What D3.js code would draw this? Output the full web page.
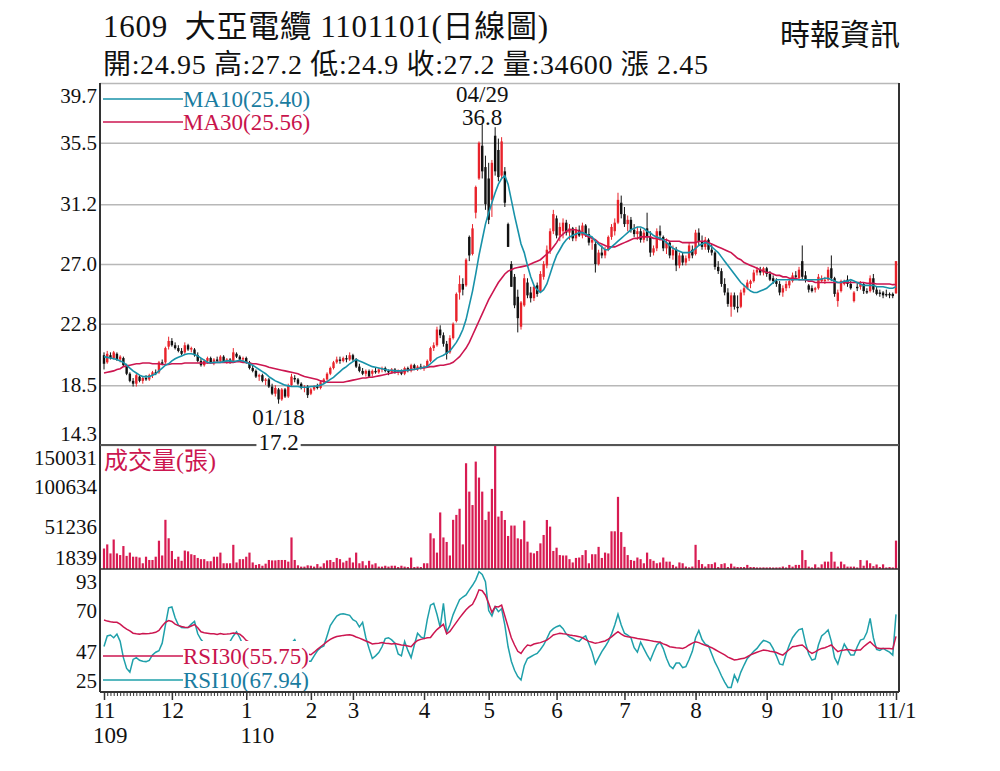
<!DOCTYPE html>
<html lang="zh-Hant">
<head>
  <meta charset="UTF-8">
  <title>1609 大亞電纜 日線圖</title>
  <script src="https://d3js.org/d3.v7.min.js"></script>
  <style>
    body { margin: 0; background: #fff; }
    svg { display: block; }
    text { font-family: "Liberation Serif", "Noto Sans CJK TC", serif; }
  </style>
</head>
<body>
  <svg width="1000" height="771"></svg>
  <script>
    // Daily bars 109/11/02 .. 110/11/01
    const open = [
      20.6,20.1,20.6,20.4,20.7,20.3,20.4,19.9,19.3,18.8,18.6,19.1,18.8,19.0,18.9,19.2,19.4,19.4,20.1,20.1,21.2,
      21.6,21.3,21.1,20.9,20.8,21.3,21.0,21.0,20.6,20.2,19.9,20.2,20.4,20.1,20.3,20.2,20.5,20.2,20.3,20.2,20.7,20.5,20.3,
      20.4,20.1,19.7,19.5,19.1,19.2,18.8,18.9,18.4,17.9,18.2,17.5,18.2,17.7,18.5,19.0,18.9,18.6,18.3,18.4,
      17.9,18.2,18.4,18.3,18.7,18.9,19.3,19.7,20.1,20.3,20.2,20.4,20.3,
      20.6,20.3,19.8,19.5,19.3,19.5,19.3,19.5,19.4,19.6,19.7,19.5,19.4,19.6,19.4,19.5,19.3,19.7,19.5,19.9,19.7,19.8,
      19.7,19.8,20.2,21.1,21.3,22.4,22.0,21.4,20.8,21.8,23.0,25.0,25.6,25.5,28.9,27.7,30.6,33.0,35.3,33.8,
      33.0,31.5,36.0,35.0,33.2,33.5,29.8,27.0,26.1,24.7,22.6,24.1,25.7,25.0,24.6,25.5,25.1,26.1,26.9,28.0,29.3,
      30.2,29.0,29.3,29.9,29.2,29.5,28.8,29.4,29.0,29.7,29.1,28.5,28.4,27.0,27.8,27.6,28.0,28.9,29.3,29.9,31.3,
      30.5,29.8,30.1,29.4,29.1,29.3,28.7,29.5,28.9,27.8,28.1,29.3,28.9,28.1,28.5,27.6,28.0,26.9,27.6,27.1,27.4,28.0,
      27.7,29.2,28.6,28.2,28.7,28.0,27.8,26.8,26.5,25.6,25.0,24.0,24.8,24.0,24.0,25.0,25.3,25.6,25.8,26.4,26.6,26.4,
      26.7,26.3,26.0,25.8,25.6,25.0,25.3,25.5,25.8,26.2,26.0,27.2,26.2,25.5,25.3,25.2,25.3,25.8,25.8,25.9,
      26.7,26.0,24.4,25.1,25.6,25.9,25.6,24.4,25.4,25.4,25.6,25.1,25.1,26.0,25.2,25.0,25.0,24.9,24.9,24.9,24.95
    ];
    const high = [
      20.8,20.9,20.8,20.9,20.8,20.6,20.5,20.0,19.4,19.0,19.3,19.2,19.1,19.2,19.3,19.5,19.6,20.2,20.3,21.2,21.9,
      21.8,21.5,21.3,21.1,21.5,21.4,21.2,21.1,20.8,20.4,20.3,20.5,20.5,20.4,20.5,20.6,20.6,20.4,20.4,21.1,20.8,20.6,20.5,
      20.5,20.2,19.9,19.6,19.3,19.3,19.0,19.0,18.6,18.5,18.3,18.3,18.3,18.6,19.3,19.2,19.0,18.7,18.5,18.5,
      18.3,18.5,18.6,18.8,19.0,19.4,19.8,20.2,20.5,20.5,20.5,20.6,20.8,
      20.7,20.4,20.0,19.7,19.6,19.6,19.6,19.7,19.7,19.8,19.8,19.6,19.7,19.7,19.6,19.6,19.8,19.8,20.0,20.0,19.9,20.0,
      19.9,20.3,21.2,21.5,22.6,22.7,22.2,21.6,22.0,22.9,25.0,26.2,26.0,27.4,29.0,29.8,32.5,35.6,36.8,34.6,
      34.1,34.3,36.6,35.8,35.9,33.8,29.9,27.2,26.3,25.2,24.4,26.3,26.0,25.4,25.5,25.7,26.5,27.2,28.3,29.5,30.8,
      30.4,29.9,30.2,30.1,29.8,29.6,29.6,29.7,29.9,29.8,29.5,28.9,28.6,28.0,28.3,28.2,29.0,29.8,30.2,32.0,31.8,
      31.0,30.4,30.3,29.8,29.6,29.5,29.4,30.6,29.3,28.3,29.5,29.7,29.0,28.8,28.6,28.3,28.2,27.8,27.8,27.6,28.5,28.3,
      29.4,29.5,29.0,28.9,28.8,28.4,27.9,27.2,26.7,26.0,25.3,25.0,25.0,24.8,25.2,25.5,25.9,25.9,26.6,26.8,26.8,26.8,
      26.8,26.5,26.2,26.0,25.8,25.5,25.8,25.9,26.4,26.5,26.8,28.3,26.5,25.6,25.5,25.4,26.3,26.2,26.1,26.8,
      27.6,26.1,25.2,25.9,25.9,26.2,25.8,25.1,25.7,25.8,25.7,25.3,26.2,26.3,25.4,25.2,25.1,25.2,25.0,25.0,27.2
    ];
    const low = [
      19.6,20.0,20.3,20.3,20.2,20.1,19.8,19.2,18.7,18.4,18.4,18.7,18.6,18.8,18.8,19.0,19.2,19.3,19.9,20.0,21.0,
      21.2,21.0,20.8,20.6,20.7,20.9,20.8,20.5,20.1,19.8,19.8,20.0,20.0,19.9,20.1,20.1,20.1,20.0,20.0,20.1,20.4,20.2,20.1,
      20.0,19.6,19.4,19.0,18.8,18.7,18.5,18.3,17.8,17.7,17.2,17.4,17.6,17.6,18.4,18.7,18.5,18.2,18.0,17.6,
      17.8,18.1,18.2,18.2,18.6,18.8,19.2,19.6,20.0,20.0,20.1,20.1,20.2,
      20.2,19.7,19.4,19.2,19.1,19.0,19.1,19.3,19.3,19.4,19.4,19.2,19.3,19.3,19.2,19.2,19.2,19.4,19.4,19.6,19.5,19.6,
      19.5,19.7,20.1,20.9,21.2,21.8,21.2,20.3,20.7,21.7,22.9,24.5,24.8,25.4,27.2,27.6,30.2,32.9,33.0,30.8,
      29.8,30.3,33.2,32.8,33.0,31.0,28.2,25.4,23.9,22.2,22.4,24.0,24.6,24.3,24.4,24.7,25.0,25.9,26.7,27.7,29.1,
      28.8,28.6,28.8,29.0,28.7,28.6,28.6,28.9,28.8,28.9,28.3,28.0,26.4,26.9,27.4,27.4,27.9,28.7,29.0,29.8,30.2,
      29.6,29.3,29.2,28.9,28.7,28.5,28.5,28.6,27.5,27.6,27.9,28.8,27.9,27.7,27.4,27.3,26.5,26.7,26.9,26.9,27.2,27.4,
      27.6,28.3,28.0,28.0,27.8,27.6,26.6,26.3,25.4,24.8,24.0,23.3,23.8,23.6,23.9,24.8,25.2,25.3,25.7,26.2,26.2,26.2,
      26.1,25.8,25.6,25.4,24.8,24.7,25.1,25.3,25.7,25.9,25.9,25.9,25.7,25.0,25.0,25.0,25.2,25.7,25.6,25.8,
      25.8,24.7,24.0,25.0,25.5,25.4,25.2,24.3,25.1,25.2,24.9,24.9,25.0,25.0,24.8,24.7,24.6,24.7,24.6,24.6,24.9
    ];
    const close = [
      20.0,20.7,20.4,20.8,20.3,20.5,19.9,19.3,18.8,18.6,19.2,18.8,19.0,18.9,19.2,19.4,19.3,20.1,20.0,21.1,21.6,
      21.3,21.1,20.9,20.7,21.3,21.0,21.1,20.6,20.2,19.9,20.2,20.4,20.1,20.3,20.2,20.5,20.2,20.3,20.1,20.8,20.5,20.3,20.4,
      20.1,19.7,19.5,19.1,19.2,18.8,18.9,18.4,17.9,18.3,17.5,18.2,17.7,18.5,19.1,18.9,18.6,18.3,18.4,17.8,
      18.2,18.4,18.3,18.7,18.9,19.3,19.7,20.1,20.3,20.2,20.4,20.3,20.6,
      20.3,19.8,19.5,19.3,19.5,19.1,19.5,19.4,19.6,19.7,19.5,19.4,19.6,19.4,19.5,19.3,19.7,19.5,19.9,19.7,19.8,19.7,
      19.8,20.2,21.1,21.3,22.4,22.0,21.4,20.7,21.8,22.8,24.9,25.6,25.2,27.3,27.6,29.5,32.4,35.5,33.5,31.2,
      30.1,34.1,33.5,33.1,35.6,31.3,28.2,25.4,24.1,23.2,24.3,26.0,24.8,24.6,25.4,24.9,26.3,27.0,28.0,29.3,30.5,
      29.0,29.6,29.9,29.2,29.5,28.8,29.4,29.0,29.7,29.1,28.5,28.7,27.0,27.8,27.6,28.0,28.9,29.6,29.9,31.5,30.5,
      29.8,30.1,29.4,29.1,29.3,28.7,29.2,28.9,27.8,28.1,29.3,29.0,28.1,28.5,27.6,28.0,26.9,27.6,27.1,27.4,28.3,27.6,
      29.2,28.6,28.2,28.7,28.0,27.8,26.8,26.5,25.6,25.0,24.2,24.8,24.0,23.9,25.0,25.3,25.7,25.8,26.4,26.6,26.4,26.7,
      26.3,25.9,25.8,25.6,25.0,25.3,25.6,25.8,26.2,26.1,26.6,26.1,25.9,25.2,25.1,25.3,26.1,26.0,25.9,26.6,
      26.0,24.9,25.0,25.8,25.8,25.6,25.3,25.0,25.3,25.6,25.1,25.0,26.0,25.2,24.9,24.9,24.8,24.8,24.8,24.75,27.2
    ];
    const volume = [
      25000,30000,19000,36000,19000,17000,28000,16000,20000,15000,15000,14000,7000,15000,11000,11000,15000,34500,16500,60000,37500,
      22000,12000,15000,10000,22500,21500,18000,17000,13500,12000,12000,9500,9500,15000,15000,20000,7000,7000,7000,29500,8000,12000,12000,
      15000,20000,8000,5000,6000,4000,6500,11000,10500,10500,11000,11000,11000,9000,38500,11000,4500,2900,2900,4500,
      4000,2900,6000,2900,7000,10500,11000,8500,13500,12000,8000,10000,13800,
      8000,20000,7000,9500,4500,10000,5500,7000,2900,2900,4000,2900,4000,4000,2400,4000,2900,2400,14000,2400,2900,2400,
      7000,7000,43600,37400,20000,69000,38500,33000,16500,60000,66000,73500,30000,129000,94400,78000,131000,111500,94400,59800,
      70000,97700,150031,63900,70800,59800,40300,53000,53000,37400,36300,59000,33400,20000,19100,21900,31300,41500,59800,51700,22000,
      26000,17000,16500,16500,12000,8000,13500,14000,17000,23000,7000,18000,18000,27000,13500,20000,19000,46000,46000,88000,45000,
      27000,17000,11000,10000,14000,12000,7000,20000,12000,10000,7000,8000,14000,9000,9000,5000,3000,8000,7000,3000,2000,3000,
      29500,11000,6000,3000,6000,6000,8000,2400,6000,7000,2400,6500,3000,2400,2400,2400,5000,2400,2400,1900,1900,2000,
      1900,2000,1839,1900,2000,3000,1900,5000,2900,5000,5000,23000,11000,2900,1900,5700,2000,5700,9000,9000,
      21000,9000,2900,9000,5700,2900,2900,2900,1900,11000,4000,10500,7000,3500,5500,2400,5700,1900,2400,1900,34600
    ];
    const ma10 = [
      20.5,20.45,20.4,20.35,20.3,20.2,20.1,19.9,19.7,19.5,19.35,19.2,19.1,19.1,19.1,19.2,19.3,19.5,19.7,
      19.9,20.0,20.2,20.35,20.45,20.55,20.65,20.7,20.7,20.65,20.55,20.4,20.25,20.1,
      20.05,20.1,20.1,20.1,20.15,20.2,20.2,20.15,20.2,20.25,20.2,
      20.1,20.0,19.9,19.75,19.6,19.45,19.3,19.1,18.95,18.8,18.7,18.6,18.5,18.45,18.4,18.4,
      18.4,18.35,18.35,18.35,18.4,18.4,18.45,18.5,18.6,18.75,18.9,19.05,19.25,19.45,19.65,19.8,20.0,20.15,20.3,
      20.2,20.1,20.0,19.9,19.8,19.75,19.7,19.65,19.6,19.55,19.55,
      19.5,19.5,19.5,19.55,19.55,19.6,19.6,19.65,19.7,19.75,19.8,
      20.0,20.2,20.4,20.5,20.6,20.75,20.9,21.2,21.5,21.9,22.4,23.1,24.1,25.1,26.3,27.6,28.7,29.8,
      30.6,31.3,32.0,32.6,33.0,33.2,32.6,31.5,30.4,29.4,28.4,27.8,26.9,26.1,25.5,25.2,25.0,
      25.2,25.6,26.3,27.0,27.6,28.0,28.4,28.7,28.9,29.0,29.1,29.2,29.2,29.1,29.0,28.9,28.6,28.4,28.2,28.0,
      28.0,28.2,28.4,28.6,28.8,29.0,29.2,29.4,29.5,29.6,29.6,29.5,29.3,29.2,29.0,28.9,28.8,28.7,28.5,28.3,
      28.1,28.0,27.9,27.8,27.8,27.8,27.9,28.1,28.3,28.4,28.5,28.4,28.2,28.0,27.8,27.5,27.2,26.9,26.6,26.3,
      26.0,25.7,25.5,25.3,25.1,25.0,25.0,25.1,25.2,25.3,25.5,25.7,25.9,25.9,25.9,25.9,25.9,25.9,25.9,25.9,
      25.9,25.9,25.9,25.9,25.9,25.9,25.95,26.0,26.0,25.9,25.8,25.7,25.7,25.8,25.8,25.9,25.8,25.7,25.6,25.5,
      25.5,25.5,25.5,25.4,25.4,25.4,25.35,25.3,25.3,25.40
    ];
    const ma30 = [
      19.35,19.4,19.45,19.5,19.6,19.65,19.8,19.85,19.9,19.95,20.0,20.0,20.05,
      20.05,20.05,20.0,20.0,20.0,19.95,19.95,19.95,
      20.0,20.0,20.0,20.0,20.05,20.05,20.05,20.05,20.05,20.05,20.05,20.05,20.05,20.05,20.1,20.1,20.1,20.1,20.1,20.1,
      20.15,20.15,20.1,20.1,20.05,20.0,20.0,19.95,19.9,19.85,
      19.75,19.7,19.65,19.6,19.55,19.5,19.45,19.4,19.35,19.3,
      19.2,19.1,19.05,19.0,18.95,18.9,18.8,18.75,18.7,18.7,
      18.7,18.7,18.7,18.7,18.75,18.8,18.85,18.9,18.95,19.0,
      19.0,19.05,19.05,19.1,19.15,19.2,19.25,19.3,19.35,19.4,
      19.4,19.45,19.5,19.55,19.6,19.6,19.65,19.7,19.7,19.75,
      19.8,19.8,19.85,19.9,19.9,19.95,20.0,20.1,20.3,20.5,
      20.8,21.1,21.5,22.0,22.5,23.0,23.5,24.0,24.5,24.9,
      25.3,25.7,26.0,26.3,26.5,26.6,26.7,26.75,26.8,26.85,
      26.9,27.0,27.1,27.2,27.3,27.5,27.7,27.9,28.2,28.5,
      28.9,29.1,29.3,29.4,29.4,29.4,29.3,29.2,29.0,28.9,
      28.8,28.7,28.5,28.4,28.3,28.2,28.2,28.2,28.3,28.4,
      28.5,28.6,28.7,28.8,28.8,28.9,28.9,28.9,28.9,28.8,
      28.8,28.7,28.7,28.7,28.6,28.6,28.6,28.6,28.5,28.5,
      28.5,28.5,28.5,28.6,28.6,28.6,28.5,28.4,28.3,28.2,
      28.1,28.0,27.9,27.8,27.6,27.4,27.3,27.1,27.0,26.9,
      26.8,26.7,26.6,26.5,26.4,26.4,26.3,26.2,26.2,26.1,
      26.1,26.0,26.0,26.0,25.9,25.9,25.9,25.8,25.8,25.7,
      25.7,25.7,25.7,25.7,25.7,25.7,25.7,25.7,25.7,25.7,
      25.7,25.7,25.7,25.7,25.7,25.65,25.65,25.65,25.6,25.6,
      25.6,25.6,25.6,25.55,25.56
    ];
    const rsi30 = [
      64.8,64.2,63.8,63.6,63.5,62.5,61.0,59.8,58.8,57.5,57.2,57.0,57.3,57.2,57.3,57.6,58.0,59.0,61.5,63.5,
      64.5,64.0,62.5,61.7,61.2,60.8,60.7,61.5,62.3,60.5,58.3,57.8,57.5,57.2,57.2,56.8,57.3,56.9,57.0,57.2,
      57.6,57.3,57.0,55.5,53.5,52.5,52.0,51.5,51.5,51.0,50.5,50.0,49.0,48.5,47.5,48.0,47.5,48.0,49.5,49.0,
      48.5,47.5,47.0,46.0,45.6,47.0,48.6,50.0,51.4,52.8,54.1,55.0,55.7,56.0,56.3,56.5,56.6,56.2,55.4,54.8,
      54.0,53.2,52.5,51.6,51.8,52.0,52.3,52.0,51.8,51.6,51.8,51.4,51.0,50.8,50.4,50.0,52.0,53.5,54.1,54.5,
      55.0,55.1,57.5,59.5,61.0,62.4,57.2,58.5,61.0,63.5,66.0,68.3,70.5,72.2,73.5,77.0,81.5,81.0,78.5,74.0,
      69.0,72.2,72.0,73.0,67.0,61.0,55.0,51.0,47.5,46.3,49.0,51.0,50.6,51.5,51.9,52.3,53.0,53.7,55.0,56.5,
      57.0,57.5,57.2,57.0,56.5,56.2,56.0,55.6,55.0,54.0,53.0,52.5,51.9,52.3,52.8,53.2,54.2,55.5,57.0,58.3,
      57.0,56.0,55.6,55.3,55.0,54.6,54.3,54.0,53.7,53.4,53.0,52.8,52.5,51.6,51.0,50.0,49.8,49.5,49.3,49.1,
      49.8,51.0,52.0,52.8,52.3,51.5,50.8,50.2,49.5,48.5,47.5,46.5,45.5,44.3,43.5,42.7,43.0,43.4,43.6,44.5,
      45.5,46.3,47.0,47.6,48.2,48.0,47.5,47.3,46.8,46.0,45.4,47.0,48.5,50.0,50.3,50.7,51.0,49.5,47.5,46.3,
      47.2,48.3,49.1,49.5,50.2,51.0,49.0,47.3,48.0,48.2,48.5,48.2,47.8,48.2,48.2,50.0,51.5,52.8,51.0,49.5,
      49.1,49.0,49.1,49.1,48.8,55.75
    ];
    const rsi10 = [
      50.2,56,56.5,55,57,53,44,38,36,43,44,42.5,42,41.8,42.5,45.5,47,47.8,52,62,
      71.5,72,66,62,60.7,60.5,60.7,62.5,64,57.2,54,52,50,48,49,51,50,48,50,53,
      56,58.3,55,51,47,45,42,40,42,38,40,36,33,38,32,40,37,45,52,54,
      50,46,47,42,42,45,47.8,49.5,50.5,56,61.7,64.5,67,68,68.3,67.8,67.4,65,64,61,
      63.5,55,49,43.5,45,46.8,50,54.5,55,53.8,52,46,45,53,48,44,51,57.5,55.5,54.6,
      65,73,74,68,60.7,74,58,62,67.8,72,76,77.5,78.7,81.5,84,87,91.5,90,86,70,
      67,72.2,69.4,71,62,50,42,37,33.5,31.6,39.5,43.5,44.5,45.5,46.3,48.5,51,54.5,58.3,60,
      61.1,61.8,60,57,55.5,54.6,53.5,53,55,56,51.5,47,40.5,44,47.3,50,53,57,62,68,
      62,57.5,56.5,55,49.5,47,52.5,49,45.5,42.5,47,51,52.5,49,43.6,39.5,38,41,41,38.5,
      39,43,47.5,55,59,54,51.5,50.5,46,41.5,38,34,30.5,27.5,27.5,34.4,30.7,36,39.9,43.5,
      45.5,47.5,49.1,51.5,53.5,53,52,49,45,40.5,40,46,51,55,57.5,59.5,60,52,46,42.7,
      43.3,51,56,57.5,59.3,53,44,40.5,46.5,51.5,48.5,45.4,45.4,50,53.7,54.3,58,65.7,55,48.5,
      48,49.1,48,47,45.4,67.94
    ];

    const priceTicks = [39.7, 35.5, 31.2, 27.0, 22.8, 18.5, 14.3];
    const rsiTicks = [93, 70, 47, 25];
    const monthLabels = ["11", "12", "1", "2", "3", "4", "5", "6", "7", "8", "9", "10", "11/1"];
    const monthStarts = [0, 21, 44, 64, 77, 99, 119, 140, 161, 183, 205, 225, 245];
    const yearLabels = ["109", "110"];
    const yearMonth = [0, 2];
    const peakDate = "04/29", lowDate = "01/18";
    const stockCode = "1609", stockName = "大亞電纜", chartDate = "1101101";

    const n = close.length;
    const L = 100, R = 899;
    const PT = 83, PB = 445, VB = 569, RB = 692;
    const RED = "#e8232b", BLACK = "#111", TEAL = "#1892a9", CRIMSON = "#cc1650";

    const svg = d3.select("svg");

    const x = d3.scaleLinear().domain([0, n - 1]).range([104, 896]);
    const yP = d3.scaleLinear().domain([14.3, 39.7]).range([PB, PT]);
    const vMax = d3.max(volume), vMin = d3.min(volume);
    const yV = d3.scaleLinear().domain([0, vMax]).range([VB, PB + 1]);
    const yR = d3.scaleLinear().domain([25, 93]).range([RB, VB]);
    const volTicks = [vMax, vMin + (vMax - vMin) * 2 / 3, vMin + (vMax - vMin) / 3, vMin].map(Math.round);

    // price grid
    svg.append("g")
      .attr("transform", `translate(${L},0)`)
      .call(d3.axisRight(yP).tickValues(priceTicks).tickSize(R - L).tickFormat(""))
      .call(g => g.select(".domain").remove())
      .call(g => g.selectAll("line").attr("stroke", "#b8b8b8").attr("stroke-width", 1.5));

    // left labels, edge labels pulled inside their panel
    function labelAxis(scale, ticks, fmt, top, bottom) {
      const g = svg.append("g")
        .attr("transform", `translate(${L},0)`)
        .call(d3.axisLeft(scale).tickValues(ticks).tickSize(0).tickPadding(3).tickFormat(fmt));
      g.select(".domain").remove();
      g.attr("font-size", 21).attr("font-family", null);
      g.selectAll("text")
        .attr("fill", "#111")
        .attr("y", d => {
          const p = scale(d);
          return Math.max(top + 13, Math.min(bottom - 11, p)) - p;
        });
    }
    labelAxis(yP, priceTicks, d => d.toFixed(1), PT, PB);
    labelAxis(yV, volTicks, d => d, PB, VB);
    labelAxis(yR, rsiTicks, d => d, VB, RB);

    // candles
    const days = d3.range(n);
    const color = i => close[i] >= open[i] ? RED : BLACK;
    const cg = svg.append("g");
    cg.selectAll("line").data(days).join("line")
      .attr("x1", i => x(i)).attr("x2", i => x(i))
      .attr("y1", i => yP(high[i])).attr("y2", i => yP(low[i]))
      .attr("stroke", color).attr("stroke-width", 1);
    cg.selectAll("rect").data(days).join("rect")
      .attr("x", i => x(i) - 1.2).attr("width", 2.4)
      .attr("y", i => yP(Math.max(open[i], close[i])))
      .attr("height", i => Math.max(1, Math.abs(yP(open[i]) - yP(close[i]))))
      .attr("fill", color);

    const priceLine = d3.line().x((d, i) => x(i)).y(d => yP(d));
    svg.append("path").datum(ma30).attr("d", priceLine)
      .attr("fill", "none").attr("stroke", CRIMSON).attr("stroke-width", 1.6);
    svg.append("path").datum(ma10).attr("d", priceLine)
      .attr("fill", "none").attr("stroke", TEAL).attr("stroke-width", 1.6);

    // MA legend
    const maLegend = [
      { name: "MA10", v: ma10[n - 1], line: TEAL, text: "#1a7ca0", y: 99 },
      { name: "MA30", v: ma30[n - 1], line: CRIMSON, text: "#c8144c", y: 122 }
    ];
    maLegend.forEach(d => {
      svg.append("line").attr("x1", 103).attr("x2", 183).attr("y1", d.y).attr("y2", d.y)
        .attr("stroke", d.line).attr("stroke-width", 1.3);
      svg.append("text").attr("x", 183).attr("y", d.y + 8).attr("font-size", 23).attr("fill", d.text)
        .text(`${d.name}(${d.v.toFixed(2)})`);
    });

    // high / low notes
    function note(cx, lines, bg) {
      lines.forEach(([t, yy]) => {
        const g = svg.append("g");
        const txt = g.append("text").attr("x", cx).attr("y", yy).attr("text-anchor", "middle")
          .attr("font-size", 23).attr("fill", "#111").text(t);
        if (bg) {
          const b = txt.node().getBBox();
          g.insert("rect", "text").attr("x", b.x - 2).attr("y", b.y + 3).attr("width", b.width + 4)
            .attr("height", b.height - 3).attr("fill", "#fff");
        }
      });
    }

    // volume
    svg.append("g").selectAll("rect").data(days).join("rect")
      .attr("x", i => x(i) - 1.1).attr("width", 2.2)
      .attr("y", i => yV(volume[i])).attr("height", i => VB - yV(volume[i]))
      .attr("fill", "#d81b52");
    svg.append("text").attr("x", 104).attr("y", 469).attr("font-size", 24).attr("fill", CRIMSON)
      .text("成交量(張)");

    // RSI
    const rsiLine = d3.line().x((d, i) => x(i)).y(d => yR(d));
    svg.append("path").datum(rsi10).attr("d", rsiLine)
      .attr("fill", "none").attr("stroke", "#1fa0aa").attr("stroke-width", 1.5);
    svg.append("path").datum(rsi30).attr("d", rsiLine)
      .attr("fill", "none").attr("stroke", CRIMSON).attr("stroke-width", 1.5);
    svg.append("rect").attr("x", 183).attr("y", 641).attr("width", 126).attr("height", 50).attr("fill", "#fff");
    const rsiLegend = [
      { name: "RSI30", v: rsi30[n - 1], line: CRIMSON, text: "#c8144c", y: 656 },
      { name: "RSI10", v: rsi10[n - 1], line: "#1fa0aa", text: "#1a7ca0", y: 680 }
    ];
    rsiLegend.forEach(d => {
      svg.append("line").attr("x1", 103).attr("x2", 183).attr("y1", d.y).attr("y2", d.y)
        .attr("stroke", d.line).attr("stroke-width", 1.3);
      svg.append("text").attr("x", 183).attr("y", d.y + 8).attr("font-size", 23).attr("fill", d.text)
        .text(`${d.name}(${d.v.toFixed(2)})`);
    });

    // frame
    const frame = svg.append("g").attr("stroke", "#333");
    frame.append("line").attr("x1", L).attr("x2", L).attr("y1", PT).attr("y2", RB).attr("stroke-width", 2);
    frame.append("line").attr("x1", R).attr("x2", R).attr("y1", PT).attr("y2", RB).attr("stroke-width", 2);
    frame.append("line").attr("x1", L).attr("x2", R).attr("y1", PB).attr("y2", PB).attr("stroke-width", 2).attr("stroke", "#555");
    frame.append("line").attr("x1", L).attr("x2", R).attr("y1", VB).attr("y2", VB).attr("stroke-width", 1.5);

    const hi = d3.maxIndex(high), lo = d3.minIndex(low);
    note(x(hi), [[peakDate, yP(high[hi]) - 22], [String(high[hi]), yP(high[hi]) + 0.5]], false);
    note(x(lo), [[lowDate, yP(low[lo]) + 21], [String(low[lo]), yP(low[lo]) + 46]], true);

    // x axis: a tick per day, longer ticks at months
    svg.append("g")
      .attr("transform", `translate(0,${RB})`)
      .call(d3.axisBottom(x).tickValues(days).tickSize(4).tickFormat(""))
      .call(g => g.selectAll("line").attr("stroke", "#333"))
      .call(g => g.select(".domain").attr("stroke", "#333").attr("stroke-width", 2).attr("d", `M${L},0H${R}`));
    const mAxis = svg.append("g")
      .attr("transform", `translate(0,${RB})`)
      .call(d3.axisBottom(x).tickValues(monthStarts).tickSize(8).tickFormat((d, i) => monthLabels[i]));
    mAxis.select(".domain").remove();
    mAxis.attr("font-size", 23).attr("font-family", null);
    mAxis.selectAll("line").attr("stroke", "#333").attr("stroke-width", 1.5);
    mAxis.selectAll("text").attr("fill", "#111").attr("dy", null).attr("y", 26);
    const mTexts = mAxis.selectAll("text").nodes();
    yearLabels.forEach((t, k) => {
      const m = yearMonth[k];
      const w = mTexts[m].getComputedTextLength();
      svg.append("text").attr("x", x(monthStarts[m]) - w / 2).attr("y", 743)
        .attr("font-size", 23).attr("fill", "#111").text(t);
    });

    // header
    const chg = (close[n - 1] - close[n - 2]).toFixed(2);
    svg.append("text").attr("x", 103).attr("y", 37).attr("font-size", 31).attr("fill", "#111")
      .style("white-space", "pre").attr("textLength", 445).attr("lengthAdjust", "spacing")
      .text(`${stockCode}  ${stockName} ${chartDate}(日線圖)`);
    svg.append("text").attr("x", 103).attr("y", 74).attr("font-size", 28).attr("fill", "#111")
      .attr("textLength", 605).attr("lengthAdjust", "spacing")
      .text(`開:${open[n - 1]} 高:${high[n - 1]} 低:${low[n - 1]} 收:${close[n - 1]} 量:${volume[n - 1]} 漲 ${chg}`);
    svg.append("text").attr("x", 900).attr("y", 45).attr("font-size", 30).attr("fill", "#111")
      .attr("text-anchor", "end").text("時報資訊");
  </script>
</body>
</html>
